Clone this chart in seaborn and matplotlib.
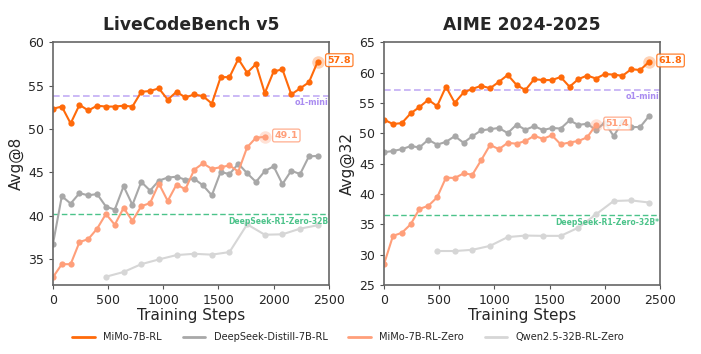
import numpy as np
import pandas as pd
import seaborn as sns
import matplotlib
matplotlib.use("Agg")
import matplotlib.pyplot as plt
from matplotlib.lines import Line2D

sns.set_style("white")
plt.rcParams['font.family'] = ['DejaVu Sans']

steps_full = list(range(0, 2401, 80))
steps_zero = list(range(0, 1921, 80))
steps_qwen = list(range(480, 2401, 160))

# LiveCodeBench v5 (Avg@8)
lcb_mimo_rl = [52.35, 52.6, 50.65, 52.8, 52.15, 52.7, 52.6, 52.6, 52.7, 52.6,
               54.3, 54.4, 54.7, 53.4, 54.3, 53.65, 54.0, 53.8, 52.95, 56.0,
               56.0, 58.1, 56.5, 57.5, 54.15, 56.65, 56.9, 54.0, 54.7, 55.4, 57.8]
lcb_ds_distill = [36.75, 42.25, 41.4, 42.6, 42.35, 42.5, 41.05, 40.7, 43.4, 41.25,
                  43.9, 42.9, 44.05, 44.4, 44.5, 44.15, 44.25, 43.5, 42.35, 45.05,
                  44.8, 46.0, 44.9, 43.9, 45.15, 45.7, 43.65, 45.2, 44.8, 46.85, 46.9]
lcb_mimo_zero = [32.9, 34.4, 34.4, 36.95, 37.3, 38.5, 40.2, 38.95, 40.9, 39.4,
                 41.1, 41.45, 43.7, 41.7, 43.6, 43.05, 45.3, 46.05, 45.4, 45.6,
                 45.8, 45.1, 47.9, 49.0, 49.1]
lcb_qwen = [32.95, 33.5, 34.4, 34.95, 35.45, 35.6, 35.5, 35.8, 39.0, 37.8, 37.85, 38.5, 38.9]
lcb_o1mini = 53.85
lcb_r1zero = 40.15

# AIME 2024-2025 (Avg@32)
aime_mimo_rl = [52.25, 51.55, 51.7, 53.3, 54.35, 55.55, 54.5, 57.7, 55.05, 56.75,
                57.35, 57.85, 57.45, 58.5, 59.65, 58.0, 57.15, 58.95, 58.8, 58.8,
                59.3, 57.7, 58.95, 59.55, 59.05, 59.8, 59.7, 59.5, 60.6, 60.45, 61.8]
aime_ds_distill = [46.9, 47.1, 47.4, 47.9, 47.7, 48.95, 48.15, 48.6, 49.55, 48.45,
                   49.55, 50.5, 50.7, 50.9, 50.05, 51.45, 50.6, 51.2, 50.55, 50.9,
                   50.8, 52.15, 51.4, 51.6, 50.55, 51.8, 49.55, 51.9, 51.05, 51.05, 52.85]
aime_mimo_zero = [28.5, 33.1, 33.6, 35.0, 37.55, 38.05, 39.45, 42.7, 42.65, 43.4,
                  43.2, 45.6, 48.1, 47.4, 48.45, 48.3, 48.75, 49.6, 49.1, 49.7,
                  48.2, 48.5, 48.75, 49.35, 51.4]
aime_qwen = [30.6, 30.6, 30.8, 31.45, 32.9, 33.15, 33.1, 33.1, 34.45, 36.65, 38.85, 38.95, 38.6]
aime_o1mini = 57.2
aime_r1zero = 36.55

series_names = ["MiMo-7B-RL", "DeepSeek-Distill-7B-RL", "MiMo-7B-RL-Zero", "Qwen2.5-32B-RL-Zero"]
colors = {"MiMo-7B-RL": "#FF6A0A", "DeepSeek-Distill-7B-RL": "#A8A8A8",
          "MiMo-7B-RL-Zero": "#FF9F7A", "Qwen2.5-32B-RL-Zero": "#D6D6D6"}
purple = "#A98BF0"
green = "#4CC38A"

fig = plt.figure(figsize=(7.01, 3.54), dpi=100)
ax1 = fig.add_axes([0.0756, 0.195, 0.3934, 0.685])
ax2 = fig.add_axes([0.548, 0.195, 0.3935, 0.685])

def draw(ax, data, title, ylabel, ylim, yticks, o1, r1, r1label, labelled):
    for name, (xs, ys) in data.items():
        df = pd.DataFrame({"step": xs, "val": ys})
        sns.lineplot(data=df, x="step", y="val", ax=ax, color=colors[name],
                     marker="o", markersize=4.5, markeredgewidth=0, linewidth=1.5,
                     label=name, legend=False)
    ax.axhline(o1, color=purple, ls=(0, (4, 2)), lw=1.2, alpha=0.7, zorder=1)
    ax.axhline(r1, color=green, ls=(0, (4, 2)), lw=1.0, zorder=1)
    off = 0.3 * (ylim[1] - ylim[0]) / 28
    ax.text(2492, o1 - off, "o1-mini", color=purple,
            fontsize=5.8, fontweight="bold", ha="right", va="top")
    ax.text(2492, r1 - off, r1label, color=green,
            fontsize=5.5, fontweight="bold", ha="right", va="top")
    for name in labelled:
        xs, ys = data[name]
        ax.plot(xs[-1], ys[-1], "o", color=colors[name], markersize=9, alpha=0.3,
                markeredgewidth=0, zorder=5)
        ax.annotate(f"{ys[-1]:.1f}", (xs[-1], ys[-1]), xytext=(7, 1),
                    textcoords="offset points", ha="left", va="center",
                    fontsize=6.8, fontweight="bold", color=colors[name],
                    bbox=dict(boxstyle="round,pad=0.2", fc="white",
                              ec=colors[name], lw=0.9, alpha=0.85))
    ax.set_xlim(0, 2500)
    ax.set_ylim(*ylim)
    ax.set_yticks(yticks)
    ax.set_xticks([0, 500, 1000, 1500, 2000, 2500])
    ax.set_title(title, fontsize=12.3, fontweight="bold", pad=9)
    ax.set_xlabel("Training Steps", fontsize=11, labelpad=1)
    ax.set_ylabel(ylabel, fontsize=11, labelpad=3)
    ax.tick_params(labelsize=9, length=3, width=0.8, direction="out", color="#555555")
    ax.tick_params(axis="both", which="both", bottom=True, left=True)
    for s in ax.spines.values():
        s.set_color("#666666")
        s.set_linewidth(1.2)

data1 = {"MiMo-7B-RL": (steps_full, lcb_mimo_rl),
         "DeepSeek-Distill-7B-RL": (steps_full, lcb_ds_distill),
         "MiMo-7B-RL-Zero": (steps_zero, lcb_mimo_zero),
         "Qwen2.5-32B-RL-Zero": (steps_qwen, lcb_qwen)}
data2 = {"MiMo-7B-RL": (steps_full, aime_mimo_rl),
         "DeepSeek-Distill-7B-RL": (steps_full, aime_ds_distill),
         "MiMo-7B-RL-Zero": (steps_zero, aime_mimo_zero),
         "Qwen2.5-32B-RL-Zero": (steps_qwen, aime_qwen)}

draw(ax1, data1, "LiveCodeBench v5", "Avg@8", (32, 60), [35, 40, 45, 50, 55, 60],
     lcb_o1mini, lcb_r1zero, "DeepSeek-R1-Zero-32B", ["MiMo-7B-RL", "MiMo-7B-RL-Zero"])
draw(ax2, data2, "AIME 2024-2025", "Avg@32", (25, 65), [25, 30, 35, 40, 45, 50, 55, 60, 65],
     aime_o1mini, aime_r1zero, "DeepSeek-R1-Zero-32B*", ["MiMo-7B-RL", "MiMo-7B-RL-Zero"])

handles = [Line2D([0], [0], color=colors[n], lw=2.0) for n in series_names]
fig.legend(handles, series_names, loc="center", bbox_to_anchor=(0.497, 0.048), ncol=4,
           frameon=False, fontsize=7.1, handlelength=2.3, columnspacing=2.1,
           handletextpad=0.85)

fig.savefig("out.png", dpi=100)
